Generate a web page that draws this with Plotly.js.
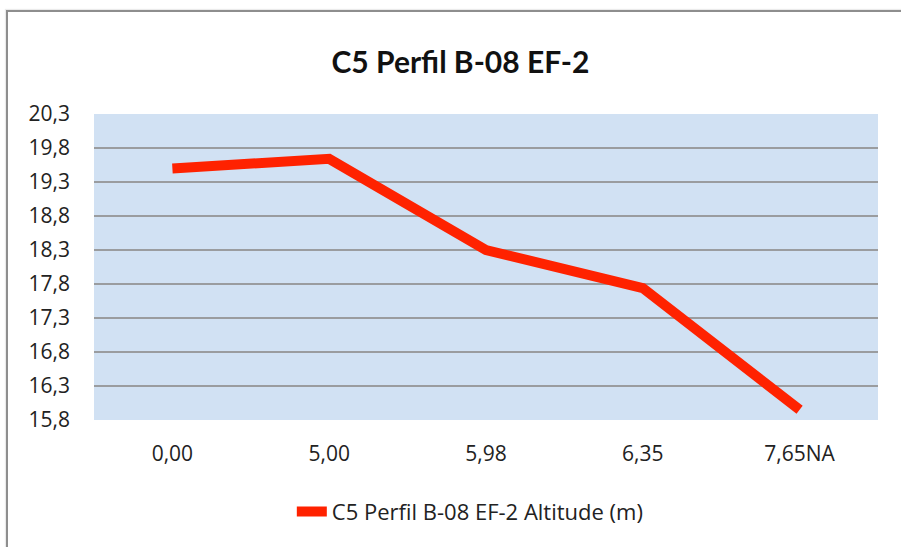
<!DOCTYPE html>
<html>
<head>
<meta charset="utf-8">
<script src="https://cdn.plot.ly/plotly-3.0.1.min.js"></script>
<style>
  html, body { margin: 0; padding: 0; background: #fff; }
  #wrap { position: relative; width: 901px; height: 547px; overflow: hidden; }
  #chart { position: absolute; left: 0; top: 0; width: 901px; height: 547px; }
  #frame { position: absolute; left: 6px; top: 10px; width: 920px; height: 560px;
           border-left: 2px solid #8e8e8e; border-top: 2px solid #8e8e8e;
           box-shadow: -1px -1px 1px rgba(0,0,0,0.08); pointer-events: none; }
</style>
</head>
<body>
<div id="wrap">
  <div id="chart"></div>
  <div id="frame"></div>
</div>
<script>
const categories = ['0,00', '5,00', '5,98', '6,35', '7,65NA'];
const altitude = [19.50, 19.64, 18.30, 17.74, 15.95];
const seriesName = 'C5 Perfil B-08 EF-2 Altitude (m)';
const chartTitle = 'C5 Perfil B-08 EF-2';

const trace = {
  x: categories,
  y: altitude,
  type: 'scatter',
  mode: 'lines',
  name: seriesName,
  line: { color: '#ff2200', width: 10 },
  showlegend: true
};

const layout = {
  width: 901,
  height: 547,
  paper_bgcolor: '#ffffff',
  plot_bgcolor: '#d1e1f3',
  separators: ',.',
  margin: { l: 94, r: 23, t: 114, b: 127 },
  title: {
    text: '<b>' + chartTitle + '</b>',
    font: { family: 'Lato, "Open Sans", sans-serif', size: 30, color: '#111' },
    x: 0.511, xanchor: 'center',
    y: 0.886, yanchor: 'middle'
  },
  font: { family: '"Open Sans", sans-serif', size: 21, color: '#222' },
  xaxis: {
    type: 'category',
    range: [-0.5, 4.5],
    showgrid: false,
    zeroline: false,
    showline: false,
    ticks: '',
    ticklabelstandoff: 19,
    tickfont: { family: '"Open Sans", sans-serif', size: 21, color: '#222' }
  },
  yaxis: {
    range: [15.8, 20.3],
    tick0: 15.8,
    dtick: 0.5,
    tickformat: '.1f',
    showgrid: true,
    gridcolor: '#9a9c9f',
    gridwidth: 2,
    zeroline: false,
    showline: false,
    ticks: '',
    ticklabelstandoff: 23,
    tickfont: { family: '"Open Sans", sans-serif', size: 21, color: '#222' }
  },
  showlegend: true,
  legend: {
    orientation: 'h',
    x: 0.48, xanchor: 'center',
    y: -0.30, yanchor: 'middle',
    font: { family: '"Open Sans", sans-serif', size: 22, color: '#222' },
    bgcolor: 'rgba(0,0,0,0)'
  }
};

Plotly.newPlot('chart', [trace], layout, { displayModeBar: false, staticPlot: true });
</script>
</body>
</html>
